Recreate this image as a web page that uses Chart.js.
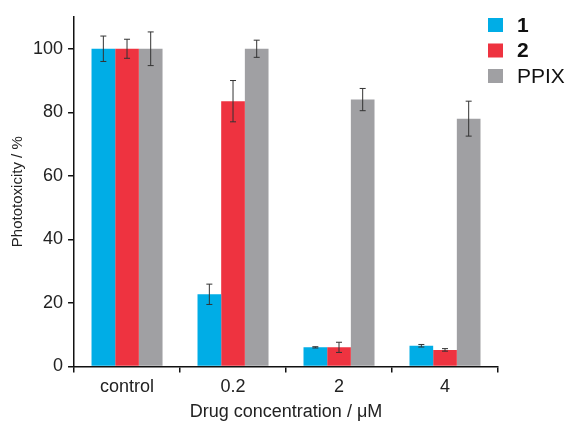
<!DOCTYPE html>
<html>
<head>
<meta charset="utf-8">
<script src="https://cdn.jsdelivr.net/npm/chart.js@4/dist/chart.umd.min.js"></script>
<style>
  html, body { margin: 0; padding: 0; background: #fff; }
</style>
</head>
<body>
<canvas id="c" width="571" height="421"></canvas>
<script>
'use strict';

const categories = ['control', '0.2', '2', '4'];
const seriesNames = ['1', '2', 'PPIX'];
const values1 = [100, 22.7, 6.0, 6.5];
const values2 = [100, 83.5, 6.0, 5.2];
const valuesPPIX = [100, 100, 84, 78];
const err1 = [4.0, 3.2, 0.2, 0.4];
const err2 = [3.0, 6.5, 1.6, 0.4];
const errPPIX = [5.3, 2.7, 3.5, 5.5];
const yTicks = [0, 20, 40, 60, 80, 100];

const colors = ['#00ade6', '#ee3340', '#a0a0a3'];
const FONT = 'Liberation Sans, Arial, sans-serif';

// draws the error whiskers using the bar positions from the chart itself
const errorBars = {
  id: 'errorBars',
  afterDatasetsDraw(chart) {
    const ctx = chart.ctx;
    const y = chart.scales.y;
    ctx.save();
    ctx.strokeStyle = '#333';
    ctx.lineWidth = 1;
    chart.data.datasets.forEach((ds, i) => {
      const meta = chart.getDatasetMeta(i);
      meta.data.forEach((bar, j) => {
        const v = ds.data[j], e = ds.errors[j];
        const top = y.getPixelForValue(v + e);
        const bot = y.getPixelForValue(v - e);
        ctx.beginPath();
        ctx.moveTo(bar.x, top); ctx.lineTo(bar.x, bot);
        ctx.moveTo(bar.x - 3, top); ctx.lineTo(bar.x + 3, top);
        ctx.moveTo(bar.x - 3, bot); ctx.lineTo(bar.x + 3, bot);
        ctx.stroke();
      });
    });
    ctx.restore();
  }
};

// legend in the top right corner, dataset names 1 and 2 in bold
const sideLegend = {
  id: 'sideLegend',
  afterDraw(chart) {
    const ctx = chart.ctx;
    ctx.save();
    ctx.textBaseline = 'middle';
    chart.data.datasets.forEach((ds, i) => {
      const cy = 25 + i * 25.5;
      ctx.fillStyle = ds.backgroundColor;
      ctx.fillRect(488, cy - 7, 15, 14);
      ctx.fillStyle = '#111';
      ctx.font = (ds.label === 'PPIX' ? '' : 'bold ') + '21px ' + FONT;
      ctx.fillText(ds.label, 517, cy + 1);
    });
    ctx.restore();
  }
};

new Chart(document.getElementById('c'), {
  type: 'bar',
  data: {
    labels: categories,
    datasets: [
      { label: seriesNames[0], data: values1, errors: err1, backgroundColor: colors[0] },
      { label: seriesNames[1], data: values2, errors: err2, backgroundColor: colors[1] },
      { label: seriesNames[2], data: valuesPPIX, errors: errPPIX, backgroundColor: colors[2] }
    ]
  },
  options: {
    responsive: false,
    animation: false,
    layout: { padding: { top: 17, right: 73, left: 9, bottom: 0 } },
    datasets: { bar: { categoryPercentage: 0.67, barPercentage: 1.0 } },
    plugins: { legend: { display: false }, tooltip: { enabled: false } },
    scales: {
      x: {
        offset: true,
        border: { color: '#111', width: 1.5 },
        grid: { display: true, drawOnChartArea: false, offset: true, tickLength: 6, color: '#111', lineWidth: 1.5 },
        ticks: { color: '#222', font: { size: 18, family: FONT }, padding: 4 },
        title: { display: true, text: 'Drug concentration / \u03bcM', color: '#222', font: { size: 18, family: FONT, lineHeight: 1.0 }, padding: { top: 1, bottom: 0 } }
      },
      y: {
        min: 0,
        max: 110,
        afterBuildTicks(axis) { axis.ticks = yTicks.map(v => ({ value: v })); },
        border: { color: '#111', width: 1.5 },
        grid: { display: true, drawOnChartArea: false, tickLength: 6, color: '#111', lineWidth: 1.5 },
        ticks: { color: '#222', font: { size: 18, family: FONT }, padding: 5 },
        title: { display: true, text: 'Phototoxicity / %', color: '#222', font: { size: 15, family: FONT }, padding: { top: 0, bottom: 1 } }
      }
    }
  },
  plugins: [errorBars, sideLegend]
});
</script>
</body>
</html>
